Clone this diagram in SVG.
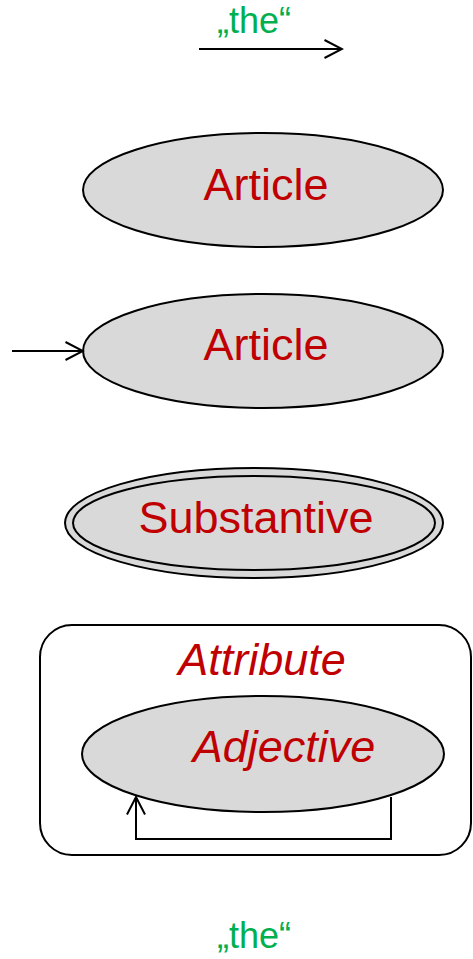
<svg xmlns="http://www.w3.org/2000/svg" width="473" height="959" viewBox="0 0 473 959">
<style>
.st{fill:#d9d9d9;stroke:#000;stroke-width:2}
.lbl{font-family:"Liberation Sans",Arial,sans-serif;fill:#c00000;font-size:45px;text-anchor:middle}
.it{font-style:italic}
.gr{font-family:"Liberation Sans",Arial,sans-serif;fill:#00b050;font-size:36px;text-anchor:middle}
.edge{fill:none;stroke:#000;stroke-width:2}
</style>
<defs>
<marker id="arr" viewBox="0 0 20 22" refX="18.5" refY="11" markerWidth="20" markerHeight="22" markerUnits="userSpaceOnUse" orient="auto">
<path d="M1 2 L18.5 11 L1 20" fill="none" stroke="#000" stroke-width="2"/>
</marker>
</defs>
<g id="label-top"><text class="gr" x="254" y="33">„the“</text></g>
<g id="article1">
<ellipse class="st" cx="263" cy="190" rx="180" ry="57"/>
<text class="lbl" x="266" y="200">Article</text>
</g>
<g id="article2">
<ellipse class="st" cx="263" cy="351" rx="180" ry="57"/>
<text class="lbl" x="266" y="360">Article</text>
</g>
<g id="substantive">
<ellipse class="st" cx="254" cy="523" rx="189" ry="55"/>
<ellipse class="st" cx="254" cy="523" rx="181" ry="47"/>
<text class="lbl" x="256" y="533">Substantive</text>
</g>
<g id="attribute">
<rect x="40" y="625" width="431" height="230" rx="32" ry="32" fill="#fff" stroke="#000" stroke-width="2"/>
<text class="lbl it" x="262" y="675">Attribute</text>
</g>
<g id="adjective">
<ellipse class="st" cx="263" cy="754" rx="181" ry="58"/>
<text class="lbl it" x="284" y="762">Adjective</text>
</g>
<g id="label-bottom"><text class="gr" x="254" y="948">„the“</text></g>
<g id="connectors">
<line class="edge" x1="199" y1="49" x2="342" y2="49" marker-end="url(#arr)"/>
<line class="edge" x1="12" y1="351" x2="83" y2="351" marker-end="url(#arr)"/>
<polyline class="edge" points="391,797 391,839 136,839 136,797" marker-end="url(#arr)"/>
</g>
</svg>
